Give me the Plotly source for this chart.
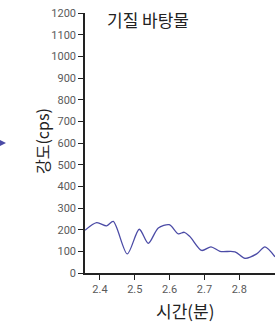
import plotly.graph_objects as go

time_min = [2.357, 2.3905, 2.4192, 2.4382, 2.4784, 2.5128, 2.5387, 2.5674, 2.599,
            2.6248, 2.642, 2.6584, 2.692, 2.7187, 2.7445, 2.7876, 2.8163, 2.8499,
            2.8737, 2.9024]
intensity = [197, 232, 218, 238, 88, 202, 137, 208, 223,
             181, 188, 168, 104, 121, 100, 98, 68, 88,
             121, 75]
x_ticks = [2.4, 2.5, 2.6, 2.7, 2.8]
y_ticks = list(range(0, 1201, 100))

W, H = 275, 328
L, R, T, B = 85, 0, 13, 55
pw, ph = W - L - R, H - T - B

def px(x):
    return (x - L) / pw

def py(y):
    return (H - B - y) / ph

fig = go.Figure()
fig.add_trace(go.Scatter(x=time_min, y=intensity, mode="lines",
                         line=dict(color="#4b4ba6", width=1.3, shape="spline", smoothing=0.8),
                         hoverinfo="skip", cliponaxis=True))

tickfont = dict(family="Roboto", size=11, color="#5a5a5a")
fig.update_xaxes(range=[2.357, 2.9025], tickvals=x_ticks, ticktext=[str(v) for v in x_ticks],
                 showline=True, linecolor="#222", linewidth=1.5, ticks="outside",
                 ticklen=5, tickwidth=1.2, tickcolor="#222", showgrid=False, zeroline=False,
                 tickfont=tickfont)
fig.update_yaxes(range=[0, 1200], tickvals=y_ticks, showline=True, linecolor="#222",
                 linewidth=1.5, ticks="outside", ticklen=5, tickwidth=1.2, tickcolor="#222",
                 showgrid=False, zeroline=False, tickfont=tickfont)

titlefont = dict(family="Noto Sans CJK KR", size=17, color="#222")
fig.add_annotation(text="기질 바탕물", xref="paper", yref="paper", x=px(105), y=py(19),
                   xanchor="left", yanchor="middle", showarrow=False, font=titlefont)
fig.add_annotation(text="강도(cps)", xref="paper", yref="paper", x=px(42), y=py(141),
                   xanchor="center", yanchor="middle", textangle=-90, showarrow=False,
                   font=dict(family="Noto Sans CJK KR", size=16, color="#222"))
fig.add_annotation(text="시간(분)", xref="paper", yref="paper", x=px(185), y=py(310),
                   xanchor="center", yanchor="middle", showarrow=False, font=titlefont)

# small arrow tip at left edge
fig.add_shape(type="path", xref="paper", yref="paper",
              path=f"M {px(0)} {py(140)} L {px(6)} {py(143)} L {px(0)} {py(146)} Z",
              fillcolor="#4b4ba6", line=dict(width=0))

fig.update_layout(width=W, height=H, margin=dict(l=L, r=R, t=T, b=B),
                  paper_bgcolor="white", plot_bgcolor="white", showlegend=False)
fig.write_html("out.html", config={"displayModeBar": False},
               post_script="document.body.style.margin='0';document.body.style.overflow='hidden';")
